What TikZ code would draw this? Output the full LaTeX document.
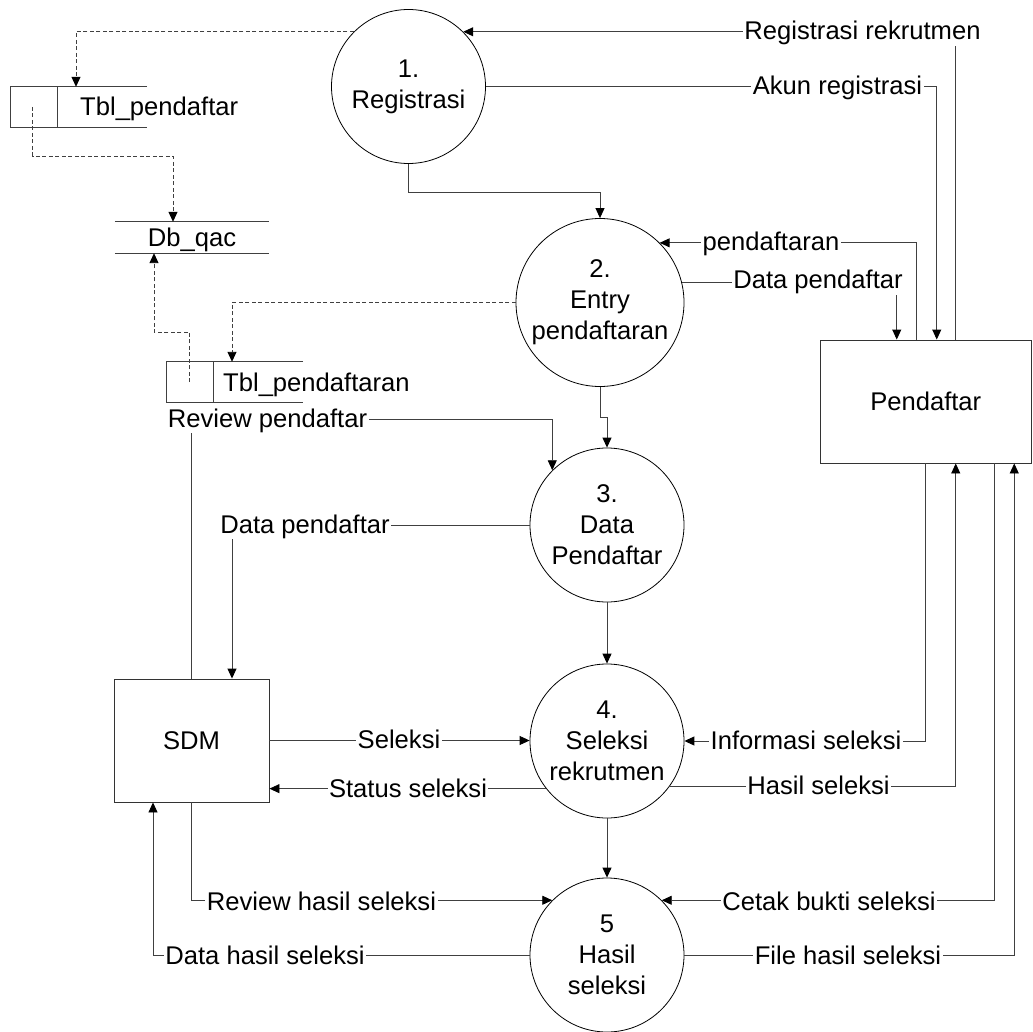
\documentclass[tikz,border=0pt]{standalone}
\usepackage{fontspec}
\setmainfont{Liberation Sans}
\usetikzlibrary{arrows.meta}
\begin{document}
\begin{tikzpicture}[x=1pt,y=-1pt,
  every node/.style={font=\fontsize{25.6}{31}\selectfont},
  proc/.style={circle, draw=black, line width=0.8pt, inner sep=0pt, align=center, minimum size=154pt},
  ent/.style={rectangle, draw=black!80, line width=0.9pt},
  store/.style={inner sep=0pt, text height=19pt, text depth=1pt},
  lbl/.style={fill=white, inner xsep=1.5pt, inner ysep=3pt, text height=19pt, text depth=3pt},
  line/.style={draw=black!75, line width=0.9pt},
  flow/.style={line, -{Triangle[length=10pt,width=9pt,color=black]}},
  sline/.style={line, dash pattern=on 4pt off 2.5pt},
  sflow/.style={flow, dash pattern=on 4pt off 2.5pt},
]
\useasboundingbox (0,0) rectangle (1033,1032);

% Processes
\node[proc] (p1) at (408.5,86.5) {1.\\Registrasi};
\node[proc, minimum size=168pt] (p2) at (600,302.5) {2.\\Entry\\pendaftaran};
\node[proc] (p3) at (607,525) {3.\\Data\\Pendaftar};
\node[proc] (p4) at (607,741) {4.\\Seleksi\\rekrutmen};
\node[proc] (p5) at (607,955) {5\\Hasil\\seleksi};

% External entities
\node[ent, minimum width=155pt, minimum height=123pt] (sdm) at (191.5,740.5) {SDM};
\node[ent, minimum width=211.5pt, minimum height=123pt] (pd) at (925.75,401.5) {Pendaftar};

% Data stores
\node[minimum width=136pt, minimum height=40pt, inner sep=0pt] (tp) at (79,107) {};
\node[store, anchor=west] (tpt) at (80,107) {Tbl\_pendaftar};
\draw[line] (tp.north east) -- (tp.north west) -- (tp.south west) -- (tp.south east);
\draw[line] ([xshift=47pt]tp.north west) -- ([xshift=47pt]tp.south west);

\node[minimum width=136pt, minimum height=40pt, inner sep=0pt] (tpd) at (235,382) {};
\node[store, anchor=west] (tpdt) at (223,382) {Tbl\_pendaftaran};
\draw[line] (tpd.north east) -- (tpd.north west) -- (tpd.south west) -- (tpd.south east);
\draw[line] ([xshift=47pt]tpd.north west) -- ([xshift=47pt]tpd.south west);

\node[store, minimum width=154pt, minimum height=31pt] (db) at (192,237.5) {Db\_qac};
\draw[line] (db.north west) -- (db.north east);
\draw[line] (db.south west) -- (db.south east);

% Store flows (dashed)
\draw[sflow] (p1.135) -| ([xshift=-3pt]tp.north);
\draw[sflow] ([xshift=22pt]tp.west) -- ++(0,49) -| ([xshift=-19pt]db.north);
\draw[sflow] ([xshift=23pt]tpd.west) -- ++(0,-50) -| ([xshift=-38pt]db.south);
\draw[sflow] (p2.west) -| ([xshift=-3pt]tpd.north);

% Flows between processes
\draw[flow] (p1.south) -- ++(0,29) -| (p2.north);
\draw[flow] (p2.south) -- ++(0,30.5) -| (p3.north);
\draw[flow] (p3.south) -- (p4.north);
\draw[flow] (p4.south) -- (p5.north);

% Flows with Pendaftar
\draw[flow] ([xshift=30pt]pd.north) |- (p1.45);
\draw[flow] (p1.east) -| ([xshift=11pt]pd.north);
\draw[flow] ([xshift=-9pt]pd.north) |- (p2.45);
\draw[flow] (p2.14.5) -| ([xshift=-29pt]pd.north);
\draw[flow] (pd.south) |- (p4.east);
\draw[flow] (p4.324.2) -| ([xshift=30pt]pd.south);
\draw[flow] ([xshift=69pt]pd.south) |- (p5.45);
\draw[flow] (p5.east) -| ([xshift=88.5pt]pd.south);

% Flows with SDM
\coordinate (rpy) at (0,419);
\draw[flow] (sdm.north) |- (p3.135 |- rpy) -- (p3.135);
\draw[flow] (p3.west) -| ([xshift=40.5pt]sdm.north);
\draw[flow] (sdm.east) -- (sdm.east -| p4.west);
\draw[flow] (p4.218.6) -- (sdm.east |- p4.218.6);
\draw[flow] (sdm.south) |- (p5.135);
\draw[flow] (p5.west) -| ([xshift=-38.5pt]sdm.south);

% Flow labels
\node[lbl] (l1) at (862.5,32) {Registrasi rekrutmen};
\node[lbl] (l2) at (837.5,87) {Akun registrasi};
\node[lbl] (l3) at (771,243) {pendaftaran};
\node[lbl] (l4) at (818,281) {Data pendaftar};
\node[lbl] (l5) at (267.5,419) {Review pendaftar};
\node[lbl] (l6) at (305,525) {Data pendaftar};
\node[lbl] (l7) at (399,740) {Seleksi};
\node[lbl] (l8) at (408,789) {Status seleksi};
\node[lbl] (l9) at (806,741) {Informasi seleksi};
\node[lbl] (l10) at (818.5,786) {Hasil seleksi};
\node[lbl] (l11) at (321.5,902) {Review hasil seleksi};
\node[lbl] (l12) at (829,902) {Cetak bukti seleksi};
\node[lbl] (l13) at (265,956) {Data hasil seleksi};
\node[lbl] (l14) at (848,956) {File hasil seleksi};
\end{tikzpicture}
\end{document}
